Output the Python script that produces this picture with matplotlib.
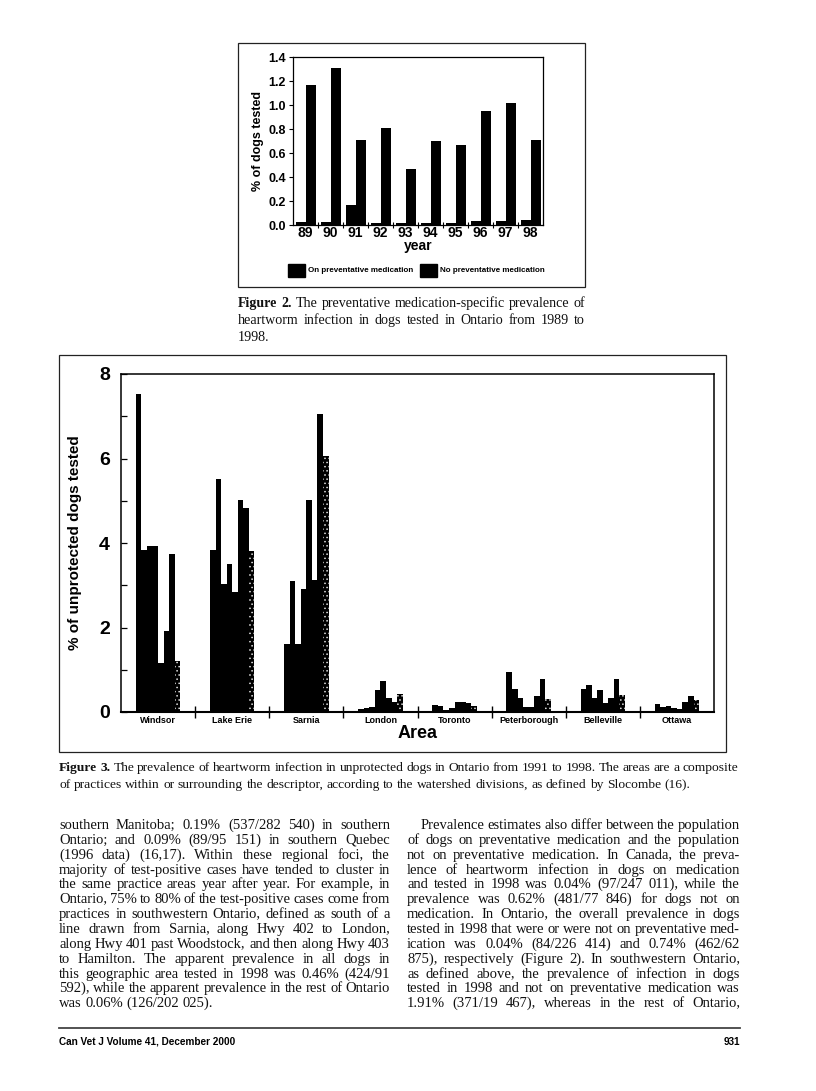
import math
import numpy as np
import matplotlib.pyplot as plt
from matplotlib.patches import Rectangle
from matplotlib.lines import Line2D

W, H = 816, 1091

# Figure 2 data
years = ['89', '90', '91', '92', '93', '94', '95', '96', '97', '98']
on_med = [0.025, 0.025, 0.17, 0.02, 0.02, 0.015, 0.02, 0.03, 0.03, 0.04]
no_med = [1.17, 1.31, 0.71, 0.81, 0.47, 0.70, 0.67, 0.95, 1.02, 0.71]

# Figure 3 data (1991..1998 per area)
areas = ['Windsor', 'Lake Erie', 'Sarnia', 'London', 'Toronto',
         'Peterborough', 'Belleville', 'Ottawa']
windsor = [7.52, 3.83, 3.93, 3.93, 1.15, 1.92, 3.73, 1.2]
lake_erie = [3.83, 5.51, 3.02, 3.51, 2.83, 5.02, 4.82, 3.82]
sarnia = [1.62, 3.11, 1.62, 2.92, 5.02, 3.12, 7.05, 6.06]
london = [0.07, 0.1, 0.12, 0.53, 0.73, 0.34, 0.24, 0.43]
toronto = [0.17, 0.14, 0.05, 0.09, 0.24, 0.24, 0.22, 0.14]
peterborough = [0.95, 0.55, 0.32, 0.12, 0.12, 0.39, 0.79, 0.30]
belleville = [0.55, 0.63, 0.32, 0.53, 0.21, 0.33, 0.79, 0.41]
ottawa = [0.20, 0.12, 0.14, 0.10, 0.08, 0.24, 0.37, 0.29]
prev = [windsor, lake_erie, sarnia, london, toronto, peterborough, belleville, ottawa]

cap2 = [
    "Figure 2. The preventative medication-specific prevalence of",
    "heartworm infection in dogs tested in Ontario from 1989 to",
    "1998.",
]
cap3 = [
    "Figure 3. The prevalence of heartworm infection in unprotected dogs in Ontario "
    "from 1991 to 1998. The areas are a composite",
    "of practices within or surrounding the descriptor, according to the watershed "
    "divisions, as defined by Slocombe (16).",
]

left_col = [
    "southern Manitoba; 0.19% (537/282 540) in southern",
    "Ontario; and 0.09% (89/95 151) in southern Quebec",
    "(1996 data) (16,17). Within these regional foci, the",
    "majority of test-positive cases have tended to cluster in",
    "the same practice areas year after year. For example, in",
    "Ontario, 75% to 80% of the test-positive cases come from",
    "practices in southwestern Ontario, defined as south of a",
    "line drawn from Sarnia, along Hwy 402 to London,",
    "along Hwy 401 past Woodstock, and then along Hwy 403",
    "to Hamilton. The apparent prevalence in all dogs in",
    "this geographic area tested in 1998 was 0.46% (424/91",
    "592), while the apparent prevalence in the rest of Ontario",
    "was 0.06% (126/202 025).",
]
right_col = [
    "Prevalence estimates also differ between the population",
    "of dogs on preventative medication and the population",
    "not on preventative medication. In Canada, the preva-",
    "lence of heartworm infection in dogs on medication",
    "and tested in 1998 was 0.04% (97/247 011), while the",
    "prevalence was 0.62% (481/77 846) for dogs not on",
    "medication. In Ontario, the overall prevalence in dogs",
    "tested in 1998 that were or were not on preventative med-",
    "ication was 0.04% (84/226 414) and 0.74% (462/62",
    "875), respectively (Figure 2). In southwestern Ontario,",
    "as defined above, the prevalence of infection in dogs",
    "tested in 1998 and not on preventative medication was",
    "1.91% (371/19 467), whereas in the rest of Ontario,",
]

SANS = 'Liberation Sans'
SERIF = 'Liberation Serif'

fig = plt.figure(figsize=(W / 100, H / 100), dpi=100)
renderer = fig.canvas.get_renderer()


def fx(x):
    return x / W


def fy(y):
    return 1 - y / H


def ax_at(l, t, r, b):
    return fig.add_axes([fx(l), fy(b), (r - l) / W, (b - t) / H])


def box(l, t, r, b, lw=0.9):
    fig.add_artist(Rectangle((fx(l), fy(b)), (r - l) / W, (b - t) / H,
                             transform=fig.transFigure, fill=False, lw=lw, ec='#222222'))


def snap_y(t, word, B):
    # pick a y so the Agg bitmap puts this word's baseline exactly on pixel row B
    _, h, d = renderer.get_text_width_height_descent(word, t.get_fontproperties(), False)
    a = h - d
    for cand in (B, B - 1, B + 1, B - 2, B + 2):
        yfrac = (H - cand) / H
        yf = H - fig.transFigure.transform((0, yfrac))[1]
        if round(yf + d) - math.floor(h) + math.floor(a) == B:
            return yfrac
    return (H - B) / H


def put_line(x0, x1, yb, words, size, justify):
    # words: list of (text, weight), spread to fill x0..x1 if justify
    arts = [fig.text(0, 0, w, fontsize=size, family=SERIF, weight=wt, va='baseline',
                     color='#111111')
            for w, wt in words]
    widths = [a.get_window_extent(renderer).width for a in arts]
    if justify and len(words) > 1:
        gap = (x1 - x0 - sum(widths)) / (len(words) - 1)
    else:
        gap = 0.25 * size * 100 / 72
    x = x0
    B = int(round(yb))
    for a, (w, _), wd in zip(arts, words, widths):
        a.set_position((fx(x), snap_y(a, w, B)))
        x += wd + gap


def paragraph(lines, x0, x1, yb0, step, size, first_indent=0, bold_lead=0, last_full=False):
    for i, ln in enumerate(lines):
        parts = ln.split(' ')
        words = [(w, 'bold' if (i == 0 and j < bold_lead) else 'normal')
                 for j, w in enumerate(parts)]
        put_line(x0 + (first_indent if i == 0 else 0), x1, yb0 + i * step, words,
                 size, last_full or i < len(lines) - 1)


# ---------------- Figure 2 ----------------
box(238, 43, 585, 287)
ax2 = ax_at(293, 57, 543, 225)
x = np.arange(len(years))
ax2.bar(x - 0.2, on_med, width=0.4, color='black')
ax2.bar(x + 0.2, no_med, width=0.4, color='black')
ax2.set_xlim(-0.5, len(years) - 0.5)
ax2.set_ylim(0, 1.4)
yt = np.arange(0, 1.41, 0.2)
ax2.set_yticks(yt)
ax2.set_yticklabels(['%.1f' % v for v in yt], fontsize=9, weight='bold', family=SANS)
ax2.set_xticks(x)
ax2.set_xticklabels(years, fontsize=10, weight='bold', family=SANS)
ax2.set_xticks(x[:-1] + 0.5, minor=True)
ax2.tick_params(axis='x', which='major', length=0, pad=1)
ax2.tick_params(axis='x', which='minor', length=5, direction='inout', width=0.8)
ax2.tick_params(axis='y', length=3, width=0.8, pad=2)
ax2.set_xlabel('year', fontsize=10, weight='bold', family=SANS, labelpad=-1)
ax2.set_ylabel('% of dogs tested', fontsize=9, weight='bold', family=SANS, labelpad=3)
for s in ax2.spines.values():
    s.set_linewidth(0.9)

# legend swatches
for sx, lab in [(288, 'On preventative medication'), (420, 'No preventative medication')]:
    fig.add_artist(Rectangle((fx(sx), fy(277)), 17 / W, 13 / H, transform=fig.transFigure,
                             color='black'))
    fig.text(fx(sx + 20), fy(270), lab, fontsize=5.8, weight='bold', family=SANS,
             va='center')

paragraph(cap2, 238, 585, 307, 17, 10.1, bold_lead=2)

# ---------------- Figure 3 ----------------
plt.rcParams['hatch.linewidth'] = 0.6
box(59, 355, 726, 752)
ax3 = ax_at(121, 374, 714, 712)
nb = 8
bw = 0.6 / nb
for g, vals in enumerate(prev):
    xs = g + 0.2 + bw * (np.arange(nb) + 0.5)
    ax3.bar(xs[:-1], vals[:-1], width=bw, color='black', linewidth=0)
    ax3.bar(xs[-1:], vals[-1:], width=bw, facecolor='black', edgecolor='#dddddd',
            hatch='....', linewidth=0)
ax3.set_xlim(0, len(areas))
ax3.set_ylim(0, 8)
ax3.set_yticks([0, 2, 4, 6, 8])
ax3.set_yticklabels(['0', '2', '4', '6', '8'], fontsize=14, weight='bold', family=SANS)
ax3.set_yticks([1, 3, 5, 7], minor=True)
ax3.tick_params(axis='y', which='both', direction='in', length=4, width=0.9, pad=8)
ax3.set_xticks(np.arange(1, len(areas)))
ax3.set_xticklabels([])
ax3.tick_params(axis='x', which='major', direction='inout', length=8, width=1)
ax3.set_xticks(np.arange(len(areas)) + 0.5, minor=True)
ax3.set_xticklabels(areas, minor=True, fontsize=6.5, weight='bold', family=SANS)
ax3.tick_params(axis='x', which='minor', length=0, pad=3)
ax3.set_xlabel('Area', fontsize=13, weight='bold', family=SANS, labelpad=0)
ax3.set_ylabel('% of unprotected dogs tested', fontsize=11, weight='bold', family=SANS,
               labelpad=12)
for s in ax3.spines.values():
    s.set_linewidth(1.1)
ax3.spines['bottom'].set_linewidth(1.5)

paragraph(cap3, 59, 738, 771, 17, 9.7, bold_lead=2)

# ---------------- body text ----------------
paragraph(left_col, 59, 390, 829, 14.85, 10.5)
paragraph(right_col, 407, 740, 829, 14.85, 10.5, first_indent=14, last_full=True)

# footer
fig.add_artist(Line2D([fx(59), fx(740)], [fy(1028), fy(1028)], transform=fig.transFigure,
                      color='#444444', lw=1.3))
fig.text(fx(59), fy(1045), 'Can Vet J Volume 41, December 2000', fontsize=7.2,
         weight='bold', family=SANS, va='baseline')
fig.text(fx(740), fy(1045), '931', fontsize=7.2, weight='bold', family=SANS,
         va='baseline', ha='right')

fig.savefig('out.png', dpi=100)
